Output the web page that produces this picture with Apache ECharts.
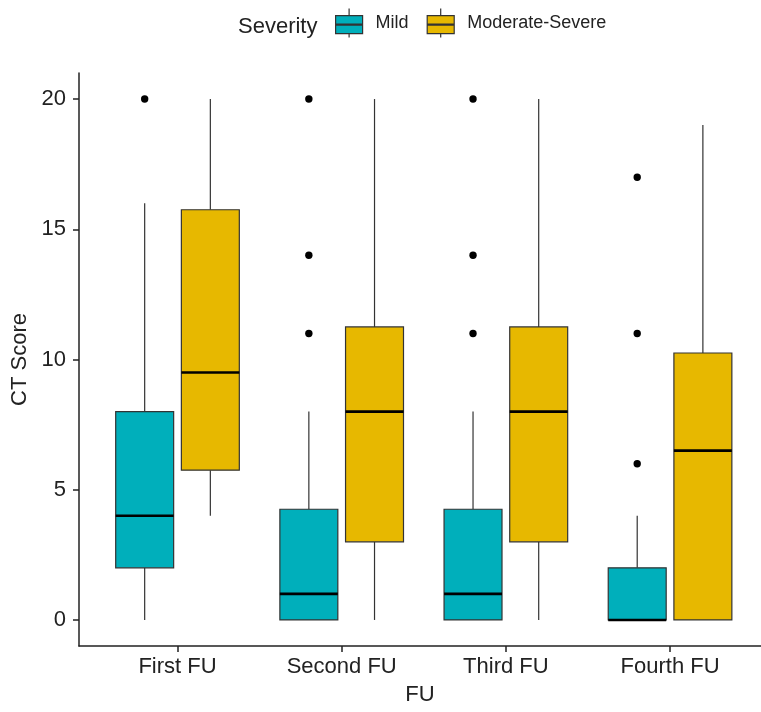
<!DOCTYPE html>
<html><head><meta charset="utf-8">
<script src="https://cdn.jsdelivr.net/npm/echarts@6/dist/echarts.min.js"></script>
<style>html,body{margin:0;padding:0;background:#fff}#c{width:761px;height:712px}</style>
</head><body><div id="c"></div>
<script>
// ---- data ----
const categories = ['First FU', 'Second FU', 'Third FU', 'Fourth FU'];
const severities = ['Mild', 'Moderate-Severe'];
// [min, Q1, median, Q3, max] (whisker ends)
const mildStats = [[0, 2, 4, 8, 16], [0, 0, 1, 4.25, 8], [0, 0, 1, 4.25, 8], [0, 0, 0, 2, 4]];
const severeStats = [[4, 5.75, 9.5, 15.75, 20], [0, 3, 8, 11.25, 20], [0, 3, 8, 11.25, 20], [0, 0, 6.5, 10.25, 19]];
const mildOutliers = [[20], [11, 14, 20], [11, 14, 20], [6, 11, 17]];
const severeOutliers = [[], [], [], []];
const yTicks = [0, 5, 10, 15, 20];

// ---- style ----
const COLORS = ['#00AFBB', '#E7B800'];
const DODGE = [-0.2, 0.2];
const BOX_WIDTH = 0.353;
const FONT = 'Liberation Sans, Arial, sans-serif';
const TXT = '#222';
const ICON = 'path://M0,7 L27,7 L27,25 L0,25 Z M0,15.5 L27,15.5 M0,16.5 L27,16.5 M13.5,0 L13.5,7 M13.5,25 L13.5,29';

function boxData(stats) { return stats.map((s, i) => [i + 1].concat(s)); }
function outlierData(outs) {
  const d = [];
  outs.forEach((arr, i) => arr.forEach(v => d.push([i + 1, v])));
  return d;
}
function boxRenderer(dodge, fill) {
  return function (params, api) {
    const x = api.value(0);
    const band = api.size([1, 0])[0];
    const cx = api.coord([x, 0])[0] + dodge * band;
    const hw = BOX_WIDTH * band / 2;
    const y = i => api.coord([x, api.value(i)])[1];
    const yMin = y(1), yQ1 = y(2), yMed = y(3), yQ3 = y(4), yMax = y(5);
    const ls = { stroke: '#333', lineWidth: 1.2 };
    return { type: 'group', children: [
      { type: 'line', shape: { x1: cx, y1: yQ3, x2: cx, y2: yMax }, style: ls },
      { type: 'line', shape: { x1: cx, y1: yQ1, x2: cx, y2: yMin }, style: ls },
      { type: 'rect', shape: { x: cx - hw, y: yQ3, width: 2 * hw, height: yQ1 - yQ3 }, style: { fill: fill, stroke: '#333', lineWidth: 1.2 } },
      { type: 'line', shape: { x1: cx - hw, y1: yMed, x2: cx + hw, y2: yMed }, style: { stroke: '#000', lineWidth: 2.6 } }
    ] };
  };
}
function pointRenderer(dodge) {
  return function (params, api) {
    const x = api.value(0);
    const band = api.size([1, 0])[0];
    const p = api.coord([x, api.value(1)]);
    return { type: 'circle', shape: { cx: p[0] + dodge * band, cy: p[1], r: 3.7 }, style: { fill: '#000' } };
  };
}

const statsList = [mildStats, severeStats];
const outList = [mildOutliers, severeOutliers];
const series = [];
severities.forEach((name, k) => {
  series.push({
    type: 'custom', name: name, renderItem: boxRenderer(DODGE[k], COLORS[k]),
    itemStyle: { color: COLORS[k] }, encode: { x: 0, y: [1, 2, 3, 4, 5] },
    data: boxData(statsList[k]), z: 2
  });
});
severities.forEach((name, k) => {
  series.push({
    type: 'custom', name: name + ' outliers', renderItem: pointRenderer(DODGE[k]),
    encode: { x: 0, y: 1 }, data: outlierData(outList[k]), z: 3
  });
});

const chart = echarts.init(document.getElementById('c'));
chart.setOption({
  animation: false,
  backgroundColor: '#fff',
  title: { text: 'Severity', left: 233, top: 11, textStyle: { fontFamily: FONT, fontSize: 22, fontWeight: 'normal', color: TXT } },
  legend: {
    left: 330, top: 3, itemWidth: 27, itemHeight: 29, itemGap: 18,
    data: severities.map(n => ({ name: n, icon: ICON })),
    textStyle: { fontFamily: FONT, fontSize: 18, color: TXT, padding: [4, 0, 0, 8] },
    itemStyle: { borderColor: '#333', borderWidth: 1.2 }
  },
  grid: { left: 79, top: 73, right: 0, bottom: 66, containLabel: false },
  xAxis: {
    type: 'value', min: 0.4, max: 4.554,
    name: 'FU', nameLocation: 'middle', nameGap: 38,
    nameTextStyle: { fontFamily: FONT, fontSize: 22, color: TXT },
    axisLine: { show: true, onZero: false, lineStyle: { color: '#222', width: 1.5 } },
    axisTick: { show: true, length: 6, customValues: [1, 2, 3, 4], lineStyle: { color: '#222', width: 1.5 } },
    axisLabel: { customValues: [1, 2, 3, 4], formatter: v => categories[Math.round(v) - 1], margin: 10, fontFamily: FONT, fontSize: 22, color: TXT },
    splitLine: { show: false }
  },
  yAxis: {
    type: 'value', min: -1, max: 21,
    name: 'CT Score', nameLocation: 'middle', nameGap: 42,
    nameTextStyle: { fontFamily: FONT, fontSize: 22, color: TXT },
    axisLine: { show: true, onZero: false, lineStyle: { color: '#222', width: 1.5 } },
    axisTick: { show: true, length: 6, customValues: yTicks, lineStyle: { color: '#222', width: 1.5 } },
    axisLabel: { customValues: yTicks, margin: 13, fontFamily: FONT, fontSize: 22, color: TXT },
    splitLine: { show: false }
  },
  series: series
});
</script></body></html>
